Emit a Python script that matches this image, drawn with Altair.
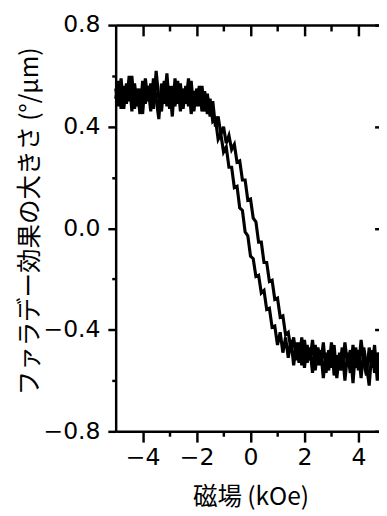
import altair as alt
import pandas as pd

# Applied magnetic field (kOe), sweep positions
FIELD_KOE = [
    -5.0, -4.9, -4.8, -4.7, -4.6, -4.5, -4.4, -4.3, -4.2, -4.1,
    -4.0, -3.9, -3.8, -3.7, -3.6, -3.5, -3.4, -3.3, -3.2, -3.1,
    -3.0, -2.9, -2.8, -2.7, -2.6, -2.5, -2.4, -2.3, -2.2, -2.1,
    -2.0, -1.9, -1.8, -1.7, -1.6, -1.5, -1.4, -1.3, -1.2, -1.1,
    -1.0, -0.9, -0.8, -0.7, -0.6, -0.5, -0.4, -0.3, -0.2, -0.1,
    0.0, 0.1, 0.2, 0.3, 0.4, 0.5, 0.6, 0.7, 0.8, 0.9,
    1.0, 1.1, 1.2, 1.3, 1.4, 1.5, 1.6, 1.7, 1.8, 1.9,
    2.0, 2.1, 2.2, 2.3, 2.4, 2.5, 2.6, 2.7, 2.8, 2.9,
    3.0, 3.1, 3.2, 3.3, 3.4, 3.5, 3.6, 3.7, 3.8, 3.9,
    4.0, 4.1, 4.2, 4.3, 4.4, 4.5, 4.6, 4.7, 4.8, 4.9,
    5.0,
]

# Faraday rotation (deg/um), left branch of the loop
BRANCH_LEFT = [
    0.55, 0.48, 0.59, 0.47, 0.57, 0.50, 0.60, 0.47, 0.55, 0.45,
    0.58, 0.49, 0.56, 0.46, 0.59, 0.51, 0.43, 0.57, 0.49, 0.61,
    0.47, 0.56, 0.48, 0.58, 0.46, 0.55, 0.49, 0.59, 0.45, 0.54,
    0.48, 0.56, 0.46, 0.54, 0.45, 0.51, 0.42, 0.43, 0.35, 0.37,
    0.30, 0.32, 0.24, 0.24, 0.16, 0.165, 0.08, 0.07, -0.015, -0.03,
    -0.11, -0.12, -0.19, -0.185, -0.255, -0.245, -0.32, -0.315, -0.39, -0.385,
    -0.46, -0.41, -0.49, -0.43, -0.51, -0.44, -0.54, -0.45, -0.53, -0.43,
    -0.55, -0.46, -0.52, -0.44, -0.56, -0.47, -0.54, -0.45, -0.57, -0.48,
    -0.55, -0.46, -0.59, -0.49, -0.56, -0.45, -0.54, -0.48, -0.61, -0.47,
    -0.56, -0.44, -0.53, -0.58, -0.47, -0.55, -0.46, -0.60, -0.49, -0.56,
    -0.50,
]

# Faraday rotation (deg/um), right branch of the loop
BRANCH_RIGHT = [
    0.51, 0.58, 0.47, 0.56, 0.49, 0.60, 0.46, 0.57, 0.48, 0.55,
    0.45, 0.59, 0.50, 0.57, 0.47, 0.62, 0.51, 0.46, 0.58, 0.48,
    0.56, 0.44, 0.59, 0.49, 0.57, 0.47, 0.56, 0.48, 0.58, 0.46,
    0.55, 0.48, 0.56, 0.46, 0.53, 0.44, 0.50, 0.40, 0.44, 0.37,
    0.40, 0.335, 0.365, 0.31, 0.33, 0.26, 0.265, 0.19, 0.19, 0.11,
    0.115, 0.04, 0.025, -0.055, -0.055, -0.135, -0.135, -0.21, -0.205, -0.28,
    -0.275, -0.35, -0.345, -0.42, -0.41, -0.48, -0.43, -0.52, -0.45, -0.54,
    -0.44, -0.53, -0.47, -0.57, -0.46, -0.54, -0.48, -0.59, -0.49, -0.56,
    -0.45, -0.58, -0.50, -0.56, -0.47, -0.60, -0.49, -0.57, -0.46, -0.55,
    -0.48, -0.59, -0.47, -0.54, -0.62, -0.48, -0.57, -0.49, -0.55, -0.46,
    -0.57,
]

X_MAJOR = [-4, -2, 0, 2, 4]
X_MINOR = [-3, -1, 1, 3]
Y_MAJOR = [-0.8, -0.4, 0.0, 0.4, 0.8]
Y_MINOR = [-0.6, -0.2, 0.2, 0.6]
X_DOMAIN = [-5, 5]
Y_DOMAIN = [-0.8, 0.8]
X_TITLE = "磁場 (kOe)"
Y_TITLE = "ファラデー効果の大きさ (°/μm)"

assert len(FIELD_KOE) == len(BRANCH_LEFT) == len(BRANCH_RIGHT)

rows = []
for name, ys in (("left", BRANCH_LEFT), ("right", BRANCH_RIGHT)):
    for i, (xv, yv) in enumerate(zip(FIELD_KOE, ys)):
        rows.append({"branch": name, "idx": i, "field": xv, "faraday": yv})
df = pd.DataFrame(rows)

LABEL_FONT = "DejaVu Sans"
TITLE_FONT = "Noto Sans CJK JP"
W, H = 269, 415
X_RANGE = 275.5

x_scale = alt.Scale(domain=X_DOMAIN, range=[0, X_RANGE], nice=False, zero=False)
y_scale = alt.Scale(domain=Y_DOMAIN, nice=False, zero=False)


def axis(**kw):
    base = dict(
        grid=False, domain=False, ticks=True, labels=False, title="",
        tickColor="black", tickWidth=2.5, domainColor="black", domainWidth=2.5,
        labelFlush=False,
    )
    base.update(kw)
    return alt.Axis(**base)


base = alt.Chart(df)

line = base.mark_line(color="black", strokeWidth=3.2, strokeJoin="miter").encode(
    x=alt.X("field:Q", scale=x_scale, axis=axis(
        orient="bottom", values=X_MAJOR, tickSize=11, domain=True,
        labels=True, format="d", labelFont=LABEL_FONT, labelFontSize=24,
        labelColor="black", labelPadding=4,
        title=X_TITLE, titleFont=TITLE_FONT, titleFontSize=25,
        titleFontWeight="normal", titleColor="black",
        titleY=67, titleBaseline="middle",
    )),
    y=alt.Y("faraday:Q", scale=y_scale, axis=axis(
        orient="left", values=Y_MAJOR, tickSize=8, domain=True,
        labels=True, format=".1f", labelFont=LABEL_FONT, labelFontSize=24,
        labelColor="black", labelPadding=8,
        title=Y_TITLE, titleFont=TITLE_FONT, titleFontSize=25,
        titleFontWeight="normal", titleColor="black",
        titleX=-88, titleY=200, titleBaseline="middle", titleAngle=270,
    )),
    detail="branch:N",
    order="idx:Q",
)

minor_bl = base.mark_point(opacity=0).encode(
    x=alt.X("field:Q", scale=x_scale, axis=axis(orient="bottom", values=X_MINOR, tickSize=5)),
    y=alt.Y("faraday:Q", scale=y_scale, axis=axis(orient="left", values=Y_MINOR, tickSize=4)),
)

major_tr = base.mark_point(opacity=0).encode(
    x=alt.X("field:Q", scale=x_scale, axis=axis(orient="top", values=X_MAJOR, tickSize=11, offset=-11)),
    y=alt.Y("faraday:Q", scale=y_scale, axis=axis(orient="right", values=Y_MAJOR, tickSize=11,
                                                 offset=X_RANGE - 11 - W)),
)

minor_tr = base.mark_point(opacity=0).encode(
    x=alt.X("field:Q", scale=x_scale, axis=axis(orient="top", values=X_MINOR, tickSize=6, offset=-6)),
    y=alt.Y("faraday:Q", scale=y_scale, axis=axis(orient="right", values=Y_MINOR, tickSize=6,
                                                 offset=X_RANGE - 6 - W)),
)

top_line = base.mark_point(opacity=0).encode(
    x=alt.X("field:Q", scale=x_scale, axis=axis(orient="top", values=X_MAJOR, ticks=False, domain=True)),
    y=alt.Y("faraday:Q", scale=y_scale, axis=None),
)

chart = (
    alt.layer(line, minor_bl, major_tr, minor_tr, top_line)
    .resolve_axis(x="independent", y="independent")
    .properties(
        width=W, height=H,
        autosize=alt.AutoSizeParams(type="none"),
        padding={"left": 110, "top": 12, "right": 0, "bottom": 80},
        background="white",
    )
    .configure_view(stroke="transparent")
)

chart.save("out.html", embed_options={"renderer": "svg", "actions": False})
